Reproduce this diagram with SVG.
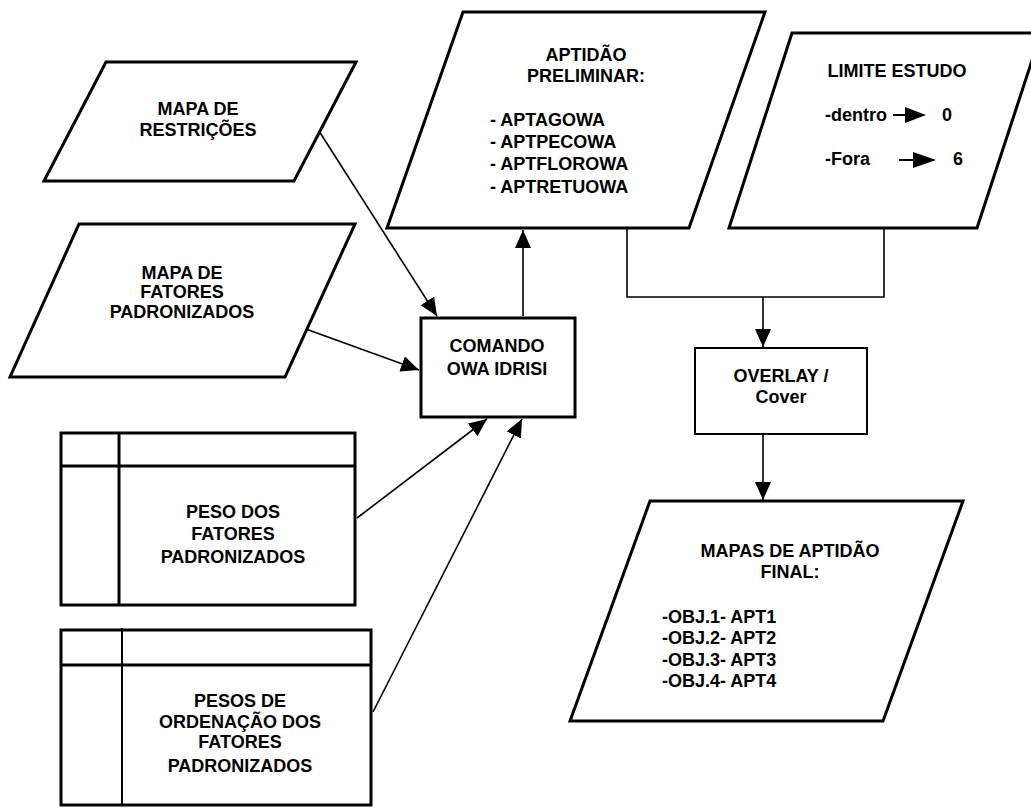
<svg xmlns="http://www.w3.org/2000/svg" width="1031" height="808" viewBox="0 0 1031 808">
  <style>
    .shape { fill: #fff; stroke: #000; stroke-width: 3; stroke-linejoin: miter; }
    .thin { fill: #fff; stroke: #000; stroke-width: 2; }
    .rule { fill: none; stroke: #000; stroke-width: 3; }
    .rule-thin { fill: none; stroke: #000; stroke-width: 2; }
    .link { fill: none; stroke: #000; stroke-width: 1.6; }
    .link-arrow { fill: none; stroke: #000; stroke-width: 1.6; marker-end: url(#head); }
    .tick { stroke: #000; stroke-width: 2; }
    text { font-family: "Liberation Sans", Arial, sans-serif; font-weight: bold; font-size: 18px; fill: #000; }
    .c { text-anchor: middle; }
  </style>
  <defs>
    <marker id="head" markerUnits="userSpaceOnUse" markerWidth="20" markerHeight="18" refX="18" refY="8" orient="auto">
      <path d="M0,0 L18,8 L0,16 Z" fill="#000"/>
    </marker>
  </defs>

  <rect width="1031" height="808" fill="#fff"/>

  <!-- connectors -->
  <g id="connectors">
    <line class="link-arrow" x1="319" y1="131" x2="437" y2="316"/>
    <line class="link-arrow" x1="303" y1="328" x2="419" y2="370"/>
    <line class="link-arrow" x1="357" y1="518" x2="487" y2="419"/>
    <line class="link-arrow" x1="373" y1="712" x2="522" y2="419"/>
    <line class="link-arrow" x1="523" y1="316" x2="523" y2="230"/>
    <polyline class="link" points="627,228 627,297 884,297 884,228"/>
    <line class="link-arrow" x1="763" y1="297" x2="763" y2="347"/>
    <line class="link-arrow" x1="763" y1="434" x2="763" y2="500"/>
  </g>

  <!-- input map: restrictions -->
  <g id="mapa-restricoes">
    <polygon class="shape" points="106,62 356,62 294,181 44,181"/>
    <text class="c" x="198" y="115">MAPA DE</text>
    <text class="c" x="198" y="136">RESTRIÇÕES</text>
  </g>

  <!-- input map: standardized factors -->
  <g id="mapa-fatores">
    <polygon class="shape" points="79,224 355,224 285,377 10,377"/>
    <text class="c" x="182" y="279">MAPA DE</text>
    <text class="c" x="182" y="298">FATORES</text>
    <text class="c" x="182" y="318">PADRONIZADOS</text>
  </g>

  <!-- preliminary suitability output -->
  <g id="aptidao-preliminar">
    <polygon class="shape" points="463,12 765,12 689,228 387,228"/>
    <text class="c" x="586" y="61">APTIDÃO</text>
    <text class="c" x="586" y="82">PRELIMINAR:</text>
    <text x="490" y="126">- APTAGOWA</text>
    <text x="490" y="148">- APTPECOWA</text>
    <text x="490" y="170">- APTFLOROWA</text>
    <text x="490" y="193">- APTRETUOWA</text>
  </g>

  <!-- study boundary -->
  <g id="limite-estudo">
    <polygon class="shape" points="792,33 1041,33 977,228 729,228"/>
    <text class="c" x="897" y="77">LIMITE ESTUDO</text>
    <text x="825" y="121">-dentro</text>
    <line class="tick" x1="893" y1="115" x2="907" y2="115"/>
    <path d="M905,107 L926,115 L905,123 Z" fill="#000"/>
    <text x="942" y="121">0</text>
    <text x="825" y="165">-Fora</text>
    <line class="tick" x1="899" y1="160" x2="915" y2="160"/>
    <path d="M913,152 L936,160 L913,168 Z" fill="#000"/>
    <text x="953" y="165">6</text>
  </g>

  <!-- OWA command -->
  <g id="comando-owa">
    <rect class="shape" x="421" y="318" width="154" height="99"/>
    <text class="c" x="497" y="352">COMANDO</text>
    <text class="c" x="497" y="375">OWA IDRISI</text>
  </g>

  <!-- overlay -->
  <g id="overlay">
    <rect class="thin" x="695" y="348" width="172" height="86"/>
    <text class="c" x="781" y="382">OVERLAY /</text>
    <text class="c" x="781" y="403">Cover</text>
  </g>

  <!-- final suitability maps -->
  <g id="mapas-aptidao-final">
    <polygon class="shape" points="650,501 963,501 883,721 570,721"/>
    <text class="c" x="790" y="557">MAPAS DE APTIDÃO</text>
    <text class="c" x="790" y="578">FINAL:</text>
    <text x="662" y="623">-OBJ.1- APT1</text>
    <text x="662" y="644">-OBJ.2- APT2</text>
    <text x="662" y="666">-OBJ.3- APT3</text>
    <text x="662" y="687">-OBJ.4- APT4</text>
  </g>

  <!-- factor weights table -->
  <g id="peso-fatores">
    <rect class="shape" x="61" y="433" width="294" height="172" stroke-width="4"/>
    <line class="rule" x1="61" y1="466" x2="355" y2="466"/>
    <line class="rule" x1="119" y1="433" x2="119" y2="605"/>
    <text class="c" x="233" y="518">PESO DOS</text>
    <text class="c" x="233" y="540">FATORES</text>
    <text class="c" x="233" y="563">PADRONIZADOS</text>
  </g>

  <!-- order weights table -->
  <g id="pesos-ordenacao">
    <rect class="shape" x="61" y="630" width="310" height="175"/>
    <line class="rule" x1="61" y1="665" x2="371" y2="665"/>
    <line class="rule-thin" x1="122" y1="628" x2="122" y2="805"/>
    <text class="c" x="240" y="707">PESOS DE</text>
    <text class="c" x="240" y="728">ORDENAÇÃO DOS</text>
    <text class="c" x="240" y="748">FATORES</text>
    <text class="c" x="240" y="772">PADRONIZADOS</text>
  </g>
</svg>
